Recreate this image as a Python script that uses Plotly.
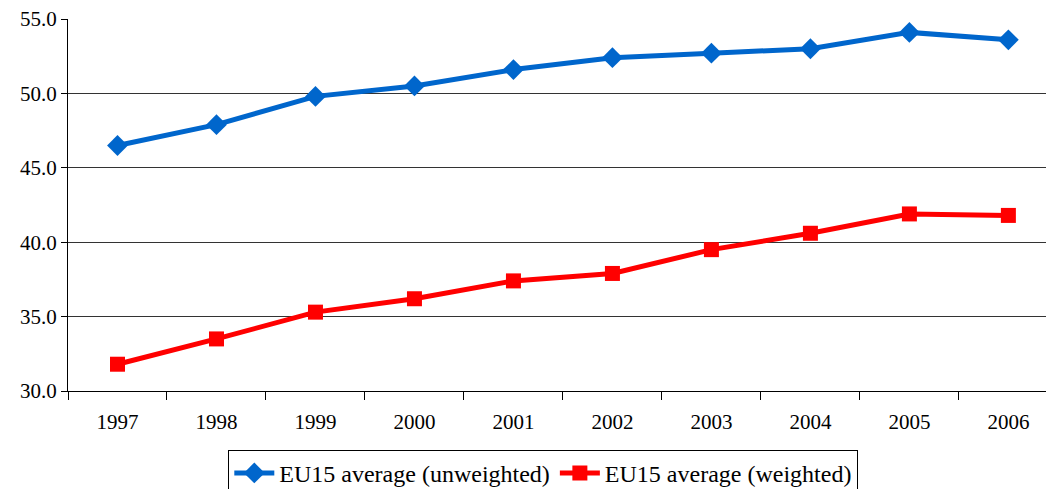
import plotly.graph_objects as go

years = ["1997", "1998", "1999", "2000", "2001", "2002", "2003", "2004", "2005", "2006"]
unweighted = [46.5, 47.9, 49.8, 50.5, 51.6, 52.4, 52.7, 53.0, 54.1, 53.6]
weighted = [31.8, 33.5, 35.3, 36.2, 37.4, 37.9, 39.5, 40.6, 41.9, 41.8]
y_ticks = [30, 35, 40, 45, 50, 55]

font_family = "Liberation Serif, Times New Roman, serif"

fig = go.Figure()
fig.add_trace(go.Scatter(
    x=years, y=unweighted, mode="lines+markers",
    name="EU15 average (unweighted)",
    line=dict(color="#0066CC", width=5),
    marker=dict(symbol="diamond", size=16, color="#0066CC"),
))
fig.add_trace(go.Scatter(
    x=years, y=weighted, mode="lines+markers",
    name="EU15 average (weighted)",
    line=dict(color="#FF0000", width=5),
    marker=dict(symbol="square", size=15, color="#FF0000"),
))

fig.update_layout(
    width=1046, height=489,
    margin=dict(l=68, r=0, t=19, b=98, autoexpand=False),
    paper_bgcolor="white", plot_bgcolor="white",
    font=dict(family=font_family, size=21, color="black"),
    showlegend=True,
    legend=dict(
        orientation="h", x=0.486, xanchor="center", y=-0.158, yanchor="top",
        bordercolor="black", borderwidth=1, font=dict(size=24),
        itemwidth=40, tracegroupgap=0,
    ),
    xaxis=dict(
        type="category", range=[-0.5, 9.38], automargin=False,
        showline=True, linecolor="black", linewidth=1,
        ticks="outside", tickson="boundaries", ticklen=8, tickcolor="black",
        showgrid=False, tickfont=dict(size=21), ticklabelstandoff=12,
    ),
    yaxis=dict(
        range=[30, 55], tickvals=y_ticks, tickformat=".1f", automargin=False,
        showline=True, linecolor="black", linewidth=1,
        ticks="outside", ticklen=6, tickcolor="black",
        showgrid=True, gridcolor="#333333", gridwidth=1,
        zeroline=False, tickfont=dict(size=21),
    ),
)

fig.write_html("out.html", config={"displayModeBar": False},
               post_script="document.body.style.margin='0';")
